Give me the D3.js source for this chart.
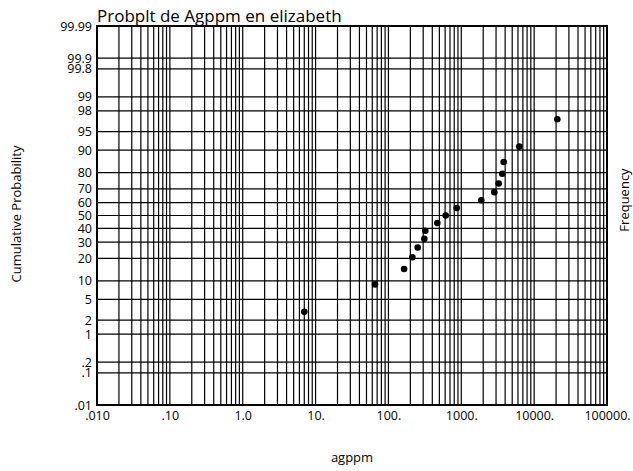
<!DOCTYPE html>
<html>
<head>
<meta charset="utf-8">
<script src="https://cdn.jsdelivr.net/npm/d3@7"></script>
<style>
  html, body { margin: 0; padding: 0; background: #fff; }
  svg { display: block; font-family: "Open Sans", "Liberation Sans", sans-serif; }
</style>
</head>
<body>
<svg id="chart" width="633" height="471"></svg>
<script>
// Ag concentrations (ppm), sorted ascending
const agppm = [7.0, 65.4, 164, 213, 252, 311, 321, 469, 611, 865,
               1880, 2840, 3260, 3650, 3820, 6250, 20800];
// Cumulative probability (%) for each sample
const cumProb = [2.94, 8.82, 14.71, 20.59, 26.47, 32.35, 38.24, 44.12, 50.00,
                 55.88, 61.76, 67.65, 73.53, 79.41, 85.29, 91.18, 97.06];

// Axis ticks
const xTickValues = [0.01, 0.1, 1, 10, 100, 1000, 10000, 100000];
const xTickLabels = [".010", ".10", "1.0", "10.", "100.", "1000.", "10000.", "100000."];
const yTickValues = [99.99, 99.9, 99.8, 99, 98, 95, 90, 80, 70, 60, 50, 40, 30, 20, 10, 5, 2, 1, 0.2, 0.1, 0.01];
const yTickLabels = ["99.99", "99.9", "99.8", "99", "98", "95", "90", "80", "70", "60", "50",
                     "40", "30", "20", "10", "5", "2", "1", ".2", ".1", ".01"];

// Inverse standard normal CDF (Acklam's rational approximation)
function probit(p) {
  const a = [-3.969683028665376e+01, 2.209460984245205e+02, -2.759285104469687e+02,
             1.383577518672690e+02, -3.066479806614716e+01, 2.506628277459239e+00];
  const b = [-5.447609879822406e+01, 1.615858368580409e+02, -1.556989798598866e+02,
             6.680131188771972e+01, -1.328068155288572e+01];
  const c = [-7.784894002430293e-03, -3.223964580411365e-01, -2.400758277161838e+00,
             -2.549671348283425e+00, 4.374664141464968e+00, 2.938163982698783e+00];
  const d = [7.784695709041462e-03, 3.224671290700398e-01, 2.445134137142996e+00,
             3.754408661907416e+00];
  const pl = 0.02425, ph = 1 - pl;
  let q, r;
  if (p < pl) {
    q = Math.sqrt(-2 * Math.log(p));
    return (((((c[0]*q+c[1])*q+c[2])*q+c[3])*q+c[4])*q+c[5]) /
           ((((d[0]*q+d[1])*q+d[2])*q+d[3])*q+1);
  }
  if (p <= ph) {
    q = p - 0.5; r = q * q;
    return (((((a[0]*r+a[1])*r+a[2])*r+a[3])*r+a[4])*r+a[5])*q /
           (((((b[0]*r+b[1])*r+b[2])*r+b[3])*r+b[4])*r+1);
  }
  q = Math.sqrt(-2 * Math.log(1 - p));
  return -(((((c[0]*q+c[1])*q+c[2])*q+c[3])*q+c[4])*q+c[5]) /
          ((((d[0]*q+d[1])*q+d[2])*q+d[3])*q+1);
}

const svg = d3.select("#chart");
const margin = { left: 97, right: 26, top: 26, bottom: 66 };
const W = 633, H = 471;
const x0 = margin.left, x1 = W - margin.right;
const y0 = margin.top, y1 = H - margin.bottom;

const x = d3.scaleLog().domain([0.01, 100000]).range([x0, x1]);
const zScale = d3.scaleLinear()
  .domain([probit(0.0001), probit(0.9999)])
  .range([y1, y0]);
const y = pct => zScale(probit(pct / 100));

// Vertical grid: 1..9 within every decade
const xGrid = [];
for (let e = -2; e < 5; e++) {
  for (let m = 1; m <= 9; m++) xGrid.push(m * Math.pow(10, e));
}
xGrid.push(100000);

const grid = svg.append("g");
grid.selectAll("line.v").data(xGrid).enter().append("line")
  .attr("class", "v")
  .attr("x1", d => x(d)).attr("x2", d => x(d))
  .attr("y1", y0).attr("y2", y1)
  .attr("stroke", "#000").attr("stroke-width", 1.2);

grid.selectAll("line.h").data(yTickValues).enter().append("line")
  .attr("class", "h")
  .attr("x1", x0).attr("x2", x1)
  .attr("y1", d => y(d)).attr("y2", d => y(d))
  .attr("stroke", "#000").attr("stroke-width", 1.2);

// Frame
svg.append("rect")
  .attr("x", x0).attr("y", y0)
  .attr("width", x1 - x0).attr("height", y1 - y0)
  .attr("fill", "none").attr("stroke", "#000").attr("stroke-width", 2);

// Axes
const xAxis = d3.axisBottom(x)
  .tickValues(xTickValues)
  .tickFormat((d, i) => xTickLabels[i])
  .tickSize(0).tickPadding(6);
svg.append("g").attr("transform", `translate(0,${y1})`).call(xAxis)
  .call(g => g.select(".domain").remove())
  .selectAll("text").attr("font-size", 12.5).attr("fill", "#000")
  .attr("font-family", "'Open Sans', 'Liberation Sans', sans-serif");

const yAxis = d3.axisLeft(zScale)
  .tickValues(yTickValues.map(p => probit(p / 100)))
  .tickFormat((d, i) => yTickLabels[i])
  .tickSize(0).tickPadding(5);
svg.append("g").attr("transform", `translate(${x0},0)`).call(yAxis)
  .call(g => g.select(".domain").remove())
  .selectAll("text").attr("font-size", 12.5).attr("fill", "#000")
  .attr("font-family", "'Open Sans', 'Liberation Sans', sans-serif");

// Sample points
svg.append("g").selectAll("circle").data(agppm).enter().append("circle")
  .attr("cx", d => x(d))
  .attr("cy", (d, i) => y(cumProb[i]))
  .attr("r", 3.3)
  .attr("fill", "#000");

// Titles
svg.append("text")
  .attr("x", x0).attr("y", 22)
  .attr("font-size", 17).attr("fill", "#000")
  .text("Probplt de Agppm en elizabeth");

svg.append("text")
  .attr("x", (x0 + x1) / 2).attr("y", 462)
  .attr("text-anchor", "middle").attr("font-size", 13)
  .text("agppm");

svg.append("text")
  .attr("transform", "translate(21,214) rotate(-90)")
  .attr("text-anchor", "middle").attr("font-size", 13)
  .text("Cumulative Probability");

svg.append("text")
  .attr("transform", "translate(629,200) rotate(-90)")
  .attr("text-anchor", "middle").attr("font-size", 13)
  .text("Frequency");
</script>
</body>
</html>
